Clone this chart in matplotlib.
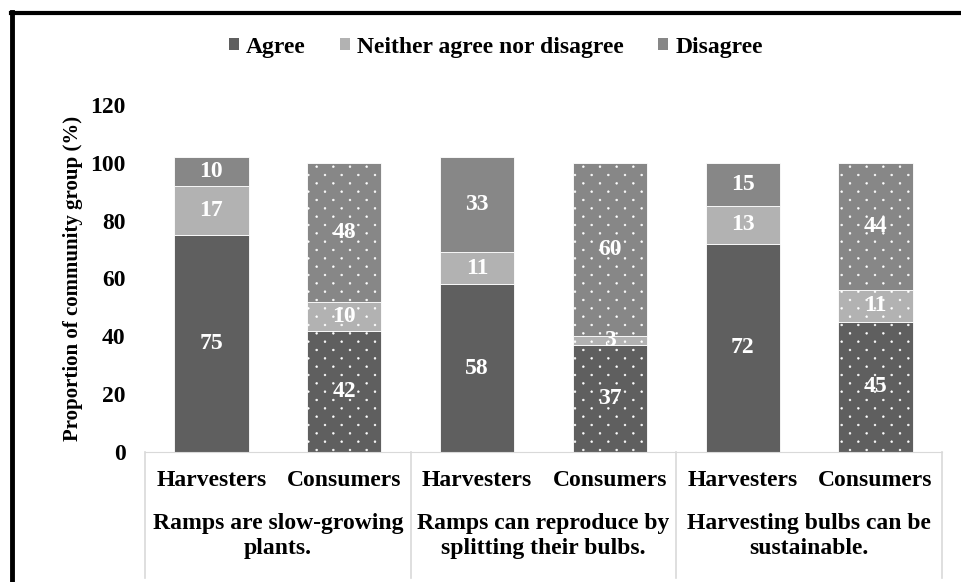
import numpy as np
import matplotlib
matplotlib.use('Agg')
from matplotlib import pyplot as plt
from matplotlib import hatch as mhatch
from matplotlib.patches import Patch
from matplotlib.lines import Line2D
from matplotlib.path import Path
from matplotlib import transforms

# Survey responses (% of each community group)
statements = ['Ramps are slow-growing\nplants.',
              'Ramps can reproduce by\nsplitting their bulbs.',
              'Harvesting bulbs can be\nsustainable.']
groups = ['Harvesters', 'Consumers']
agree    = [75, 42, 58, 37, 72, 45]
neither  = [17, 10, 11, 3, 13, 11]
disagree = [10, 48, 33, 60, 15, 44]

responses = ['Agree', 'Neither agree nor disagree', 'Disagree']
colors = ['#5f5f5f', '#b2b2b2', '#878787']


class StaggeredDots(mhatch.HatchPatternBase):
    """Small dots, rows twice as close as the columns, every other row shifted."""

    def __init__(self, hatch, density):
        self.n = hatch.count('.') * density
        circ = Path.unit_circle()
        self.circ_v = circ.vertices
        self.circ_c = circ.codes
        self.num_shapes = (2 * self.n + 1) * (self.n + 1) if self.n else 0
        self.num_vertices = self.num_shapes * len(self.circ_v)

    def set_vertices_and_codes(self, vertices, codes):
        step = 1.0 / self.n
        shape = self.circ_v * 0.009
        nv = len(self.circ_v)
        k = 0
        for row in range(2 * self.n + 1):
            shift = step / 2 if row % 2 else 0.0
            for col in range(self.n + 1):
                sl = slice(k * nv, (k + 1) * nv)
                vertices[sl] = shape + (col * step + shift, row * step / 2)
                codes[sl] = self.circ_c
                k += 1


mhatch._hatch_types = [t for t in mhatch._hatch_types
                       if t is not mhatch.SmallFilledCircles] + [StaggeredDots]

plt.rcParams['font.family'] = 'Liberation Serif'
plt.rcParams['font.weight'] = 'bold'
plt.rcParams['axes.labelweight'] = 'bold'
plt.rcParams['hatch.linewidth'] = 0.4

fs = 17

fig = plt.figure(figsize=(9.61, 5.82), dpi=100)
ax = fig.add_axes([0.1509, 0.2234, 0.8293, 0.5962])

x = np.arange(len(agree))
width = 0.56
bottom = np.zeros(len(agree))
for vals, col in zip([agree, neither, disagree], colors):
    vals = np.array(vals, dtype=float)
    for i in x:
        # consumers get the white dotted fill
        hatch = '.' if i % 2 == 1 else None
        ax.bar(i, vals[i], width, bottom=bottom[i], color=col,
               edgecolor='white', linewidth=0.6, hatch=hatch)
        ax.text(i, bottom[i] + vals[i] / 2, str(int(vals[i])), ha='center',
                va='center', color='white', fontsize=fs, fontweight='bold')
    bottom += vals

ax.set_xlim(-0.5, len(agree) - 0.5)
ax.set_ylim(0, 120)
ax.set_yticks(range(0, 121, 20))
ax.tick_params(axis='y', length=0, labelsize=fs, pad=14)
ax.set_xticks([])
for s in ['top', 'right', 'left']:
    ax.spines[s].set_visible(False)
ax.spines['bottom'].set_color('#d9d9d9')
ax.set_ylabel('Proportion of community group (%)', fontsize=15, labelpad=5)

# two-level category axis
trans = transforms.blended_transform_factory(ax.transData, ax.transAxes)
for i in x:
    ax.text(i, -0.082, groups[i % 2], transform=trans, ha='center',
            va='center', fontsize=fs)
for k, st in enumerate(statements):
    ax.text(2 * k + 0.5, -0.243, st, transform=trans, ha='center',
            va='center', fontsize=fs, linespacing=1.25)
for xs in [-0.5, 1.5, 3.5, 5.5]:
    ax.add_line(Line2D([xs, xs], [0, -0.363], transform=trans,
                       color='#d9d9d9', linewidth=1.2, clip_on=False))

handles = [Patch(facecolor=c, edgecolor='none') for c in colors]
fig.legend(handles, responses, loc='center', bbox_to_anchor=(0.516, 0.919),
           ncol=3, frameon=False, fontsize=fs, handlelength=0.42,
           handleheight=0.42, handletextpad=0.3, columnspacing=1.45)

# frame lines along top and left edges
fig.add_artist(Line2D([0.011, 1.0], [0.977, 0.977], transform=fig.transFigure,
                      color='black', linewidth=3))
fig.add_artist(Line2D([0.013, 0.013], [0.0, 0.979], transform=fig.transFigure,
                      color='black', linewidth=3.5))

fig.savefig('out.png', dpi=100)
